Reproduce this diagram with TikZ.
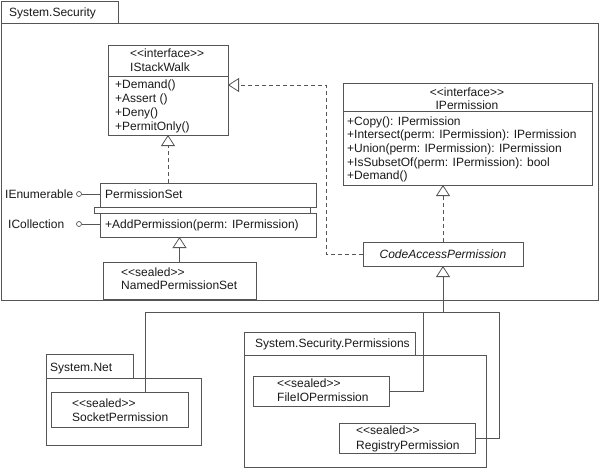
\documentclass[tikz,border=0pt]{standalone}
\usepackage{fontspec}
\setmainfont{Liberation Sans}
\usetikzlibrary{arrows.meta}
\definecolor{linegray}{RGB}{85,85,85}
\definecolor{textgray}{RGB}{25,25,25}

\begin{document}
\begin{tikzpicture}[
  x=1pt, y=-1pt,
  umlbox/.style={rectangle, draw=linegray, line width=0.8pt, anchor=north west, inner sep=0pt, outer sep=0pt},
  txt/.style={anchor=base west, inner sep=0pt, align=left, text=textgray, font=\fontsize{12}{14}\selectfont},
  ctxt/.style={txt, anchor=base, align=center},
  lolli/.style={circle, draw=linegray, line width=0.7pt, minimum size=5pt, inner sep=0pt},
  conn/.style={draw=linegray, line width=0.8pt},
  real/.style={conn, dash pattern=on 4pt off 3pt, -{Triangle[open, length=11pt, width=14pt]}},
  gen/.style={conn, -{Triangle[open, length=11pt, width=14pt]}}
]
\useasboundingbox (0,0) rectangle (600,469);

\node[umlbox, minimum width=117, minimum height=22] (sstab) at (1,1) {};
\node[umlbox, minimum width=597, minimum height=277] (ssbody) at (1,23) {};
\node[txt] (sst) at (9,16.3) {System.Security};

\node[umlbox, minimum width=120, minimum height=31] (stackhd) at (108,45) {};
\node[umlbox, minimum width=120, minimum height=59] (stackops) at (108,76) {};
\node[txt] (stackhdt) at (130,71.3) {<{}<interface>{}>\\IStackWalk};
\node[txt] (stackopst) at (115,130.3) {+Demand()\\+Assert ()\\+Deny()\\+PermitOnly()};

\node[umlbox, minimum width=249, minimum height=28] (iphd) at (343,83) {};
\node[umlbox, minimum width=249, minimum height=74] (ipops) at (343,111) {};
\node[ctxt, font=\fontsize{12}{13}\selectfont] (iphdt) at (467,109.3) {<{}<interface>{}>\\IPermission};
\node[txt, font=\fontsize{12}{13.7}\selectfont] (ipopst) at (347,179.8) {+Copy(): IPermission\\+Intersect(perm: IPermission): IPermission\\+Union(perm: IPermission): IPermission\\+IsSubsetOf(perm: IPermission): bool\\+Demand()};

\node[umlbox, minimum width=216, minimum height=24] (psname) at (100,183) {};
\node[umlbox, minimum width=216, minimum height=6] (psattr) at (94,207) {};
\node[umlbox, minimum width=216, minimum height=24] (psops) at (100,213) {};
\node[txt] (psnamet) at (105,198.3) {PermissionSet};
\node[txt] (psopst) at (105,228.3) {+AddPermission(perm: IPermission)};

\node[lolli] (ienum) at (79,194) {};
\node[lolli] (icoll) at (79,224) {};
\node[txt] (ienumt) at (5,198.3) {IEnumerable};
\node[txt] (icollt) at (8,228.3) {ICollection};

\node[umlbox, minimum width=153, minimum height=37] (nps) at (103,262) {};
\node[txt, font=\fontsize{12}{13}\selectfont] (npst) at (121,289.3) {<{}<sealed>{}>\\NamedPermissionSet};

\node[umlbox, minimum width=160, minimum height=24] (cap) at (363,242) {};
\node[ctxt, font=\itshape\fontsize{12}{14}\selectfont] (capt) at (443,258.3) {CodeAccessPermission};

\node[umlbox, minimum width=87, minimum height=24] (nettab) at (46,354) {};
\node[umlbox, minimum width=155, minimum height=67] (netbody) at (46,378) {};
\node[txt] (nett) at (50,371.3) {System.Net};
\node[umlbox, minimum width=137, minimum height=35] (socket) at (51,392) {};
\node[txt] (sockett) at (72,421.3) {<{}<sealed>{}>\\SocketPermission};

\node[umlbox, minimum width=171, minimum height=23] (permtab) at (244,332) {};
\node[umlbox, minimum width=242, minimum height=112] (permbody) at (244,355) {};
\node[txt] (permt) at (255,347.3) {System.Security.Permissions};
\node[umlbox, minimum width=136, minimum height=30] (fileio) at (253,376) {};
\node[txt, font=\fontsize{12}{14.5}\selectfont] (fileiot) at (277,401.8) {<{}<sealed>{}>\\FileIOPermission};
\node[umlbox, minimum width=136, minimum height=30] (registry) at (339,423) {};
\node[txt, font=\fontsize{12}{15}\selectfont] (registryt) at (356,449.3) {<{}<sealed>{}>\\RegistryPermission};

\coordinate (junc) at ([yshift=-46pt]cap.south);

\draw[real] ([xshift=-40pt]psname.north) -- ([xshift=-40pt]psname.north |- stackops.south);
\draw[real] (cap.west) -- ++(-37,0) |- ([yshift=-9pt]stackops.north east);
\draw[real] (cap.north) -- (cap.north |- ipops.south);
\draw[gen] (nps.north) -- (nps.north |- psops.south);
\draw[conn] (ienum) -- (ienum -| psname.west);
\draw[conn] (icoll) -- (icoll -| psops.west);
\draw[gen] (junc) -- (cap.south);
\draw[conn] (junc) -| ([xshift=26pt]socket.north);
\draw[conn] (junc) -| ([xshift=34pt]fileio.east) -- (fileio.east);
\draw[conn] (junc) -| ([xshift=24pt]registry.east) -- (registry.east);
\end{tikzpicture}
\end{document}
